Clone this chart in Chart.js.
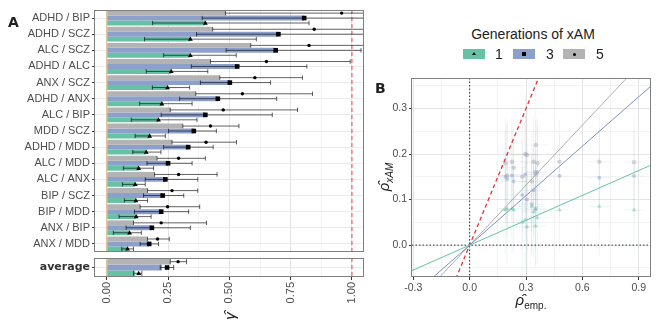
<!DOCTYPE html>
<html><head><meta charset="utf-8">
<script src="https://cdn.jsdelivr.net/npm/chart.js@4/dist/chart.umd.min.js"></script>
<style>
body{margin:0;width:660px;height:330px;background:#fff;position:relative;overflow:hidden;font-family:"Liberation Sans",Arial,sans-serif;color:#222;}
canvas{position:absolute;}
.t{position:absolute;white-space:nowrap;line-height:1;}
.rot{transform:translate(-50%,-50%) rotate(-90deg);}
.key{position:absolute;width:22px;height:10px;}
.key i{position:absolute;left:50%;top:50%;background:#000;}
</style></head><body>
<canvas id="cA" style="left:0px;top:0px" width="364" height="254"></canvas>
<canvas id="cAvg" style="left:0px;top:254px" width="364" height="56"></canvas>
<canvas id="cB" style="left:370px;top:60px" width="290" height="250"></canvas>

<div class="t" style="left:8px;top:15px;font-weight:bold;font-size:14px;font-family:'DejaVu Sans'">A</div>
<div class="t" style="left:375px;top:81px;font-weight:bold;font-size:14px;font-family:'DejaVu Sans'">B</div>
<div class="t rot" style="left:229px;top:316px;font-size:15px;font-style:italic;position:absolute">γ̂</div>
<div class="t rot" style="left:385px;top:177px;font-size:15px;position:absolute"><i>ρ̂</i><sub style="font-size:10px;font-style:italic">xAM</sub></div>
<div class="t" style="left:531px;top:301px;transform:translate(-50%,-50%);font-size:15px"><i>ρ̂</i><sub style="font-size:10px">emp.</sub></div>

<div class="t" style="left:533px;top:34px;transform:translate(-50%,-50%);font-size:14px;color:#222">Generations of xAM</div>
<div class="key" style="left:463px;top:49px;background:#66c2a5"><i style="width:0;height:0;background:none;border-left:2px solid transparent;border-right:2px solid transparent;border-bottom:3px solid #000;margin:-2px 0 0 -2px"></i></div>
<div class="t" style="left:495px;top:47px;font-size:14px">1</div>
<div class="key" style="left:513px;top:49px;background:#8da0cb"><i style="width:4px;height:4px;margin:-2px 0 0 -2px"></i></div>
<div class="t" style="left:546px;top:47px;font-size:14px">3</div>
<div class="key" style="left:563px;top:49px;background:#b3b3b3"><i style="width:3px;height:3px;border-radius:50%;margin:-1.5px 0 0 -1.5px"></i></div>
<div class="t" style="left:596px;top:47px;font-size:14px">5</div>

<script>
// ---------- Panel A data ----------
const pairs = ["ADHD / BIP","ADHD / SCZ","ALC / SCZ","ADHD / ALC","ANX / SCZ","ADHD / ANX","ALC / BIP","MDD / SCZ","ADHD / MDD","ALC / MDD","ALC / ANX","BIP / SCZ","BIP / MDD","ANX / BIP","ANX / MDD"];
const gen5Bar = [0.484,0.432,0.587,0.423,0.461,0.363,0.259,0.310,0.266,0.205,0.195,0.166,0.136,0.109,0.166];
const gen5Est = [0.958,0.846,0.825,0.651,0.604,0.553,0.475,0.423,0.405,0.293,0.293,0.266,0.248,0.222,0.207];
const gen5Lo  = [0.484,0.432,0.587,0.423,0.461,0.363,0.259,0.310,0.266,0.205,0.195,0.166,0.136,0.109,0.166];
const gen5Hi  = [1.15,1.20,1.10,0.993,0.798,0.839,0.778,0.539,0.529,0.402,0.450,0.371,0.379,0.407,0.255];
const gen3Bar = [0.805,0.700,0.689,0.532,0.502,0.453,0.402,0.355,0.332,0.250,0.239,0.228,0.222,0.184,0.173];
const gen3Est = [0.805,0.700,0.689,0.532,0.502,0.453,0.402,0.355,0.332,0.250,0.239,0.228,0.222,0.184,0.173];
const gen3Lo  = [0.389,0.366,0.487,0.345,0.382,0.297,0.222,0.252,0.232,0.164,0.157,0.150,0.113,0.079,0.136];
const gen3Hi  = [1.10,1.10,1.037,0.816,0.668,0.693,0.675,0.447,0.434,0.348,0.371,0.314,0.334,0.341,0.211];
const gen1Bar = [0.402,0.341,0.341,0.263,0.248,0.225,0.211,0.175,0.161,0.130,0.116,0.119,0.120,0.093,0.085];
const gen1Est = [0.402,0.341,0.341,0.263,0.248,0.225,0.211,0.175,0.161,0.130,0.116,0.119,0.120,0.093,0.085];
const gen1Lo  = [0.187,0.154,0.232,0.161,0.186,0.134,0.100,0.116,0.106,0.068,0.064,0.072,0.050,0.027,0.061];
const gen1Hi  = [0.825,0.610,0.528,0.412,0.338,0.348,0.368,0.239,0.221,0.191,0.157,0.166,0.181,0.141,0.109];
// average row: [gen5, gen3, gen1]
const avgBar = [0.259,0.225,0.116];
const avgEst = [0.291,0.246,0.130];
const avgLo  = [0.259,0.218,0.109];
const avgHi  = [0.325,0.273,0.143];
const gammaTicks = [0,0.125,0.25,0.375,0.5,0.625,0.75,0.875,1];

// ---------- Panel B data ----------
const empRho = [0.875,0.690,0.478,0.352,0.340,0.305,0.296,0.234,0.225,0.199,0.190,0.350,0.330,0.360,0.280];
const empSE  = [0.05,0.06,0.05,0.06,0.07,0.08,0.06,0.07,0.06,0.05,0.05,0.06,0.07,0.06,0.08];
const xam1   = [0.077,0.085,0.077,0.078,0.073,0.040,0.055,0.077,0.080,0.080,0.077,0.042,0.085,0.060,0.050];
const xam3   = [0.152,0.148,0.152,0.155,0.120,0.100,0.155,0.140,0.153,0.145,0.150,0.080,0.090,0.160,0.110];
const xam5   = [0.182,0.183,0.183,0.220,0.183,0.198,0.200,0.170,0.183,0.153,0.180,0.160,0.140,0.180,0.150];
const xamSE  = [0.10,0.11,0.09,0.12,0.10,0.11,0.13,0.09,0.10,0.12,0.10,0.09,0.11,0.10,0.12];
const slopes = [0.182,0.362,0.439];   // gen 1, 3, 5 fitted lines through origin
const rhoTicksX = [-0.3,-0.15,0,0.15,0.3,0.45,0.6,0.75,0.9];
const rhoTicksY = [-0.05,0,0.05,0.1,0.15,0.2,0.25,0.3,0.35];

const GREEN='#66c2a5', BLUE='#8da0cb', GRAY='#b3b3b3';
const FONT='"Liberation Sans", Arial, sans-serif';
const near=(v,m)=>Math.abs(v/m-Math.round(v/m))<1e-6;
const noPadV = s=>{ s.paddingTop=0; s.paddingBottom=0; };

function marker(ctx, shape, x, y){
  ctx.fillStyle='#000'; ctx.beginPath();
  if(shape==='tri'){ ctx.moveTo(x,y-2.6); ctx.lineTo(x+2.4,y+1.7); ctx.lineTo(x-2.4,y+1.7); ctx.closePath(); }
  else if(shape==='sq'){ ctx.rect(x-2.3,y-2.3,4.6,4.6); }
  else { ctx.arc(x,y,1.7,0,Math.PI*2); }
  ctx.fill();
}

const panelA = {
  id:'panelA',
  beforeDatasetsDraw(chart){
    const {ctx, chartArea:a, scales:{x}} = chart;
    ctx.save();
    const x0=x.getPixelForValue(0);
    ctx.strokeStyle='rgba(214,170,100,0.8)'; ctx.lineWidth=1;
    ctx.beginPath(); ctx.moveTo(x0,a.top); ctx.lineTo(x0,a.bottom); ctx.stroke();
    ctx.restore();
  },
  afterDatasetsDraw(chart){
    const {ctx, chartArea:a, scales:{x}} = chart;
    ctx.save();
    ctx.beginPath(); ctx.rect(a.left,a.top,a.right-a.left,a.bottom-a.top); ctx.clip();
    const x1=x.getPixelForValue(1);
    ctx.strokeStyle='#e0474c'; ctx.setLineDash([4,3]); ctx.lineWidth=1;
    ctx.beginPath(); ctx.moveTo(x1,a.top); ctx.lineTo(x1,a.bottom); ctx.stroke();
    ctx.setLineDash([]);
    chart.data.datasets.forEach((ds,di)=>{
      const meta=chart.getDatasetMeta(di);
      meta.data.forEach((bar,j)=>{
        const y=bar.y, h=bar.height*0.9;
        const xl=x.getPixelForValue(ds.lo[j]), xh=x.getPixelForValue(ds.hi[j]), xp=x.getPixelForValue(ds.est[j]);
        ctx.strokeStyle='rgba(0,0,0,0.62)'; ctx.lineWidth=1;
        ctx.beginPath();
        ctx.moveTo(xl,y); ctx.lineTo(xh,y);
        ctx.moveTo(xl,y-h/2); ctx.lineTo(xl,y+h/2);
        ctx.moveTo(xh,y-h/2); ctx.lineTo(xh,y+h/2);
        ctx.stroke();
        marker(ctx, ds.shape, xp, y);
      });
    });
    ctx.restore();
    ctx.save();
    ctx.strokeStyle='#7f7f7f'; ctx.lineWidth=1;
    ctx.strokeRect(Math.round(a.left)-0.5,Math.round(a.top)+0.5,Math.round(a.right-a.left)+1,Math.round(a.bottom-a.top)-1);
    ctx.restore();
  }
};

function xScaleA(showLabels){
  return {
    type:'linear', min:-0.048, max:1.045,
    afterBuildTicks(s){ s.ticks = gammaTicks.map(v=>({value:v})); },
    grid:{ color:c=> (c.tick && near(c.tick.value,0.25)) ? '#e4e4e4' : '#f2f2f2',
           drawTicks:showLabels, tickLength:3,
           tickColor:c=> (c.tick && near(c.tick.value,0.25)) ? '#333' : 'rgba(0,0,0,0)' },
    border:{display:false},
    ticks:{ display:showLabels, autoSkip:false, minRotation:90, maxRotation:90, padding:2,
            color:'#4d4d4d', font:{family:FONT,size:11},
            callback:(v)=> near(v,0.25) ? v.toFixed(2) : '' },
    afterFit(s){ s.height = showLabels ? 33 : 0; s.paddingLeft=0; s.paddingRight=0; }
  };
}

const mkDs = (label,data,color,lo,hi,est,shape)=>({label,data,backgroundColor:color,borderWidth:0,lo,hi,est,shape,
  categoryPercentage:0.92, barPercentage:1.0});

new Chart(document.getElementById('cA'),{
  type:'bar',
  data:{ labels:pairs, datasets:[
    mkDs('5',gen5Bar,GRAY,gen5Lo,gen5Hi,gen5Est,'dot'),
    mkDs('3',gen3Bar,BLUE,gen3Lo,gen3Hi,gen3Est,'sq'),
    mkDs('1',gen1Bar,GREEN,gen1Lo,gen1Hi,gen1Est,'tri')
  ]},
  options:{
    indexAxis:'y', responsive:false, animation:false, devicePixelRatio:1,
    layout:{padding:{top:10,bottom:2,right:1,left:0}},
    plugins:{legend:{display:false},tooltip:{enabled:false}},
    scales:{
      x: xScaleA(false),
      y:{ grid:{offset:false,color:'#ebebeb',tickLength:3,tickColor:'#333'}, border:{display:false},
          ticks:{autoSkip:false,color:'#4d4d4d',font:{family:FONT,size:11},padding:2},
          afterFit(s){ s.width=95; noPadV(s); } }
    }
  },
  plugins:[panelA]
});

new Chart(document.getElementById('cAvg'),{
  type:'bar',
  data:{ labels:['average'], datasets:[
    mkDs('5',[avgBar[0]],GRAY,[avgLo[0]],[avgHi[0]],[avgEst[0]],'dot'),
    mkDs('3',[avgBar[1]],BLUE,[avgLo[1]],[avgHi[1]],[avgEst[1]],'sq'),
    mkDs('1',[avgBar[2]],GREEN,[avgLo[2]],[avgHi[2]],[avgEst[2]],'tri')
  ]},
  options:{
    indexAxis:'y', responsive:false, animation:false, devicePixelRatio:1,
    layout:{padding:{top:4,bottom:0,right:1,left:0}},
    plugins:{legend:{display:false},tooltip:{enabled:false}},
    scales:{
      x: xScaleA(true),
      y:{ grid:{offset:false,color:'#ebebeb',tickLength:3,tickColor:'#333'}, border:{display:false},
          ticks:{autoSkip:false,color:'#333',font:{family:'"DejaVu Sans"',size:11,weight:'bold'},padding:2},
          afterFit(s){ s.width=95; noPadV(s); } }
    }
  },
  plugins:[panelA]
});

// ---------- Panel B ----------
const panelB = {
  id:'panelB',
  beforeDatasetsDraw(chart){
    const {ctx, chartArea:a, scales:{x,y}} = chart;
    ctx.save();
    ctx.beginPath(); ctx.rect(a.left,a.top,a.right-a.left,a.bottom-a.top); ctx.clip();
    chart.data.datasets.forEach(ds=>{
      if(!ds.errY) return;
      ctx.strokeStyle=ds.errColor; ctx.lineWidth=1;
      ds.data.forEach((p,i)=>{
        const px=x.getPixelForValue(p.x), py=y.getPixelForValue(p.y);
        ctx.beginPath();
        ctx.moveTo(px, y.getPixelForValue(p.y-ds.errY[i])); ctx.lineTo(px, y.getPixelForValue(p.y+ds.errY[i]));
        ctx.moveTo(x.getPixelForValue(p.x-ds.errX[i]), py); ctx.lineTo(x.getPixelForValue(p.x+ds.errX[i]), py);
        ctx.stroke();
      });
    });
    ctx.strokeStyle='#333'; ctx.setLineDash([1.5,2]); ctx.lineWidth=1;
    const x0=x.getPixelForValue(0), y0=y.getPixelForValue(0);
    ctx.beginPath(); ctx.moveTo(x0,a.top); ctx.lineTo(x0,a.bottom); ctx.moveTo(a.left,y0); ctx.lineTo(a.right,y0); ctx.stroke();
    ctx.restore();
  },
  afterDraw(chart){
    const {ctx, chartArea:a} = chart;
    ctx.save(); ctx.strokeStyle='#7f7f7f'; ctx.lineWidth=1;
    ctx.strokeRect(Math.round(a.left)-0.5,Math.round(a.top)+0.5,Math.round(a.right-a.left)+1,Math.round(a.bottom-a.top)-1);
    ctx.restore();
  }
};

const lineX=[-0.5,1.2];
const fitLine=(b,color,dash)=>({type:'line',data:lineX.map(v=>({x:v,y:b*v})),borderColor:color,borderWidth:dash?1.3:1,
  borderDash:dash||[],pointRadius:0,fill:false,order:0});
const pts=(ys,color,style,errColor)=>({type:'scatter',data:empRho.map((v,i)=>({x:v,y:ys[i]})),
  pointStyle:style,pointRadius:2,backgroundColor:color,borderColor:color,borderWidth:0.5,
  errX:empSE,errY:xamSE,errColor,order:1});

new Chart(document.getElementById('cB'),{
  type:'scatter',
  data:{datasets:[
    pts(xam1,'rgba(102,194,165,0.45)','triangle','rgba(102,194,165,0.12)'),
    pts(xam3,'rgba(141,160,203,0.45)','rect','rgba(141,160,203,0.12)'),
    pts(xam5,'rgba(150,150,170,0.35)','circle','rgba(150,150,150,0.10)'),
    fitLine(slopes[0],GREEN),
    fitLine(slopes[1],'#8090c0'),
    fitLine(slopes[2],'#b0b0b0'),
    fitLine(1,'#e0343a',[4,3])
  ]},
  options:{
    responsive:false, animation:false, devicePixelRatio:1,
    layout:{padding:{top:18,bottom:17,right:10,left:0}},
    plugins:{legend:{display:false},tooltip:{enabled:false}},
    scales:{
      x:{ type:'linear', min:-0.307, max:0.96,
          afterBuildTicks(s){ s.ticks=rhoTicksX.map(v=>({value:v})); },
          grid:{ color:c=>(c.tick && near(c.tick.value,0.3))?'#e4e4e4':'#f2f2f2', tickLength:3,
                 tickColor:c=>(c.tick && near(c.tick.value,0.3))?'#333':'rgba(0,0,0,0)'},
          border:{display:false},
          ticks:{autoSkip:false,maxRotation:0,padding:2,color:'#4d4d4d',font:{family:FONT,size:10.5},
                 callback:v=> near(v,0.3)? v.toFixed(1):''},
          afterFit(s){ s.height=16; s.paddingLeft=0; s.paddingRight=0; } },
      y:{ type:'linear', min:-0.070, max:0.367,
          afterBuildTicks(s){ s.ticks=rhoTicksY.map(v=>({value:v})); },
          grid:{ color:c=>(c.tick && near(c.tick.value,0.1))?'#e4e4e4':'#f2f2f2', tickLength:3,
                 tickColor:c=>(c.tick && near(c.tick.value,0.1))?'#333':'rgba(0,0,0,0)'},
          border:{display:false},
          ticks:{autoSkip:false,padding:2,color:'#4d4d4d',font:{family:FONT,size:10.5},
                 callback:v=> near(v,0.1)? v.toFixed(1):''},
          afterFit(s){ s.width=42; noPadV(s); } }
    }
  },
  plugins:[panelB]
});
</script>
</body></html>
